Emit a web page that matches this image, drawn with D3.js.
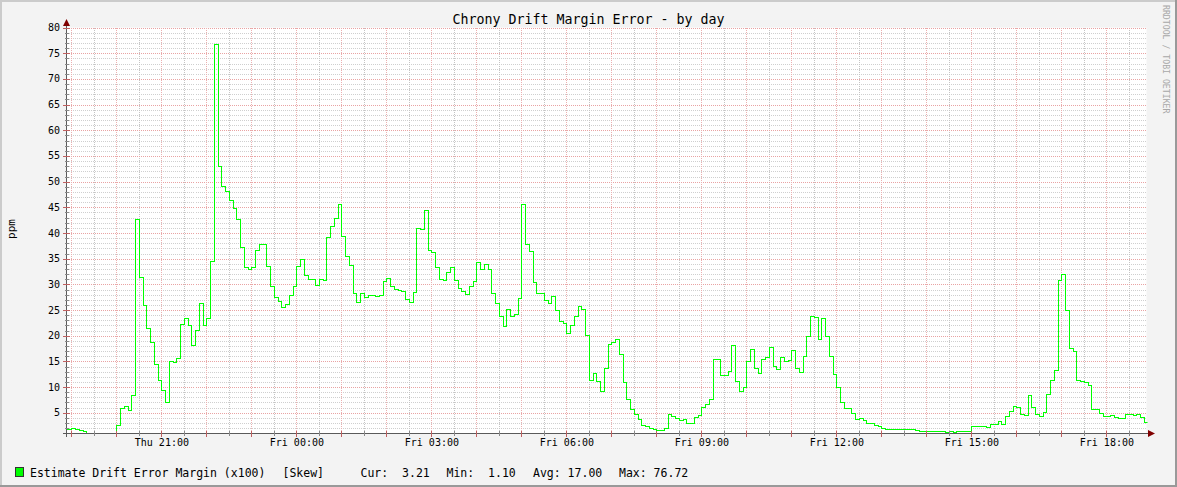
<!DOCTYPE html>
<html><head><meta charset="utf-8">
<script src="https://cdn.jsdelivr.net/npm/d3@7"></script>
<style>
body{margin:0;background:#f3f3f3}
svg{display:block}
text{font-family:"DejaVu Sans Mono",monospace;fill:#000}
</style>
</head><body>
<svg id="chart" width="1177" height="487"></svg>
<script>
// ---- data ----
const title = "Chrony Drift Margin Error - by day";
const yLabel = "ppm";
const watermark = "RRDTOOL / TOBI OETIKER";
const seriesName = "Estimate Drift Error Margin (x100)";
const seriesTag = "[Skew]";
const statLabels = ["Cur:  3.21", "Min:  1.10", "Avg: 17.00", "Max: 76.72"];
const yTickValues = [5,10,15,20,25,30,35,40,45,50,55,60,65,70,75,80];
const xTickLabels = ["Thu 21:00","Fri 00:00","Fri 03:00","Fri 06:00","Fri 09:00","Fri 12:00","Fri 15:00","Fri 18:00"];
const xTickHours = [21,24,27,30,33,36,39,42]; // hours after Thu 00:00
const stepMinutes = 5;
// one value per 5-minute step, first step starting Thu 18:50
const skew = [
 1.9,1.75,2.0,1.8,1.6,1.4,1.1,1.1,1.1,1.1,1.1,1.1,1.1,1.1,
 2.6,5.9,6.4,5.5,8.4,42.7,31.4,25.9,21.5,18.8,14.4,11.3,9.4,7.0,
 15.1,14.8,15.6,22.2,23.4,22.1,18.1,21.2,26.3,22.0,23.4,34.5,76.72,53.1,
 49.1,48.2,46.4,44.9,42.7,37.2,33.3,32.9,33.3,36.6,37.8,37.8,33.6,29.7,
 27.5,26.7,25.5,26.1,27.9,29.6,33.6,34.9,31.8,31.0,31.0,29.8,31.0,30.8,
 39.2,41.4,42.9,45.6,39.4,35.5,33.8,28.4,26.6,28.4,27.5,28.0,27.9,27.7,
 27.9,30.6,31.2,29.6,29.1,29.0,28.8,27.1,26.6,28.5,40.9,40.7,44.4,36.7,
 36.3,33.3,31.1,30.8,32.5,33.3,30.8,29.2,28.7,28.1,29.6,30.6,34.3,32.9,
 33.9,33.0,28.4,26.4,23.9,21.9,25.3,23.8,24.3,27.3,45.6,37.9,36.5,30.5,
 28.3,28.3,26.9,26.4,27.7,25.1,22.8,22.4,20.5,22.0,23.9,25.7,25.3,20.1,
 11.3,12.7,11.1,9.2,13.8,18.4,18.7,19.4,16.4,10.9,7.6,5.7,4.7,3.7,
 2.7,2.35,2.0,1.8,1.7,1.65,2.0,4.7,4.4,4.0,3.6,3.7,3.1,3.0,
 4.1,4.5,6.05,6.7,7.7,15.5,15.4,12.3,12.3,13.2,18.1,11.1,9.2,10.1,
 15.0,17.5,13.8,12.7,15.5,15.8,17.9,14.2,13.6,15.9,15.1,15.3,17.3,13.8,
 12.9,16.0,19.9,23.8,23.6,19.4,23.4,19.9,16.1,12.5,10.1,7.15,5.9,5.9,
 5.0,3.8,3.9,3.6,3.0,3.0,2.6,2.4,1.96,1.8,1.8,1.8,1.8,1.8,
 1.8,1.8,1.8,1.63,1.4,1.4,1.4,1.4,1.4,1.4,1.4,1.18,1.37,1.18,
 1.37,1.37,1.37,1.37,2.5,2.5,2.5,2.5,2.15,2.87,2.8,3.3,2.9,4.4,
 5.27,6.4,6.2,4.7,4.6,8.4,6.2,4.75,4.4,5.2,8.6,11.4,13.4,30.8,
 31.95,25.1,17.7,17.1,11.3,11.1,11.0,10.5,5.66,5.66,4.9,4.4,4.4,4.5,
 4.2,4.0,4.0,4.7,4.7,4.56,4.7,4.2,3.21
];

// ---- layout ----
const W = 1177, H = 487;
const pL = 66.5, pR = 1146.5, pT = 27.6, pB = 433.3;
const dayStart = new Date(2020,0,2,0,0,0); // Thursday
const viewStart = new Date(2020,0,2,18,53,30);
const viewEnd = new Date(2020,0,3,18,53,30);
const firstSample = new Date(2020,0,2,18,50,0);

const svg = d3.select("#chart");
const x = d3.scaleTime().domain([viewStart, viewEnd]).range([pL, pR]);
const y = d3.scaleLinear().domain([1, 80]).range([pB, pT]);

// background + frame
svg.append("rect").attr("width",W).attr("height",H).attr("fill","#f3f3f3");
svg.append("rect").attr("x",0).attr("y",0).attr("width",W).attr("height",2).attr("fill","#cbcbcb");
svg.append("rect").attr("x",0).attr("y",0).attr("width",2).attr("height",H).attr("fill","#cbcbcb");
svg.append("rect").attr("x",0).attr("y",H-2).attr("width",W).attr("height",2).attr("fill","#999");
svg.append("rect").attr("x",W-2).attr("y",0).attr("width",2).attr("height",H).attr("fill","#999");

// canvas
svg.append("rect").attr("x",pL).attr("y",pT).attr("width",pR-pL).attr("height",pB-pT).attr("fill","#fff");

const grid = svg.append("g").attr("shape-rendering","crispEdges");
const minorY = d3.range(2, 81, 1).filter(v => v % 5 !== 0);
grid.selectAll(".hmin").data(minorY).join("line")
  .attr("x1",pL).attr("x2",pR)
  .attr("y1",d=>Math.round(y(d))+0.5).attr("y2",d=>Math.round(y(d))+0.5)
  .attr("stroke","#cfcfcf").attr("stroke-dasharray","1,1");
const halfHours = d3.timeMinute.every(30).range(viewStart, viewEnd).filter(d => d.getMinutes() === 30);
grid.selectAll(".vmin").data(halfHours).join("line")
  .attr("y1",pT).attr("y2",pB)
  .attr("x1",d=>Math.round(x(d))+0.5).attr("x2",d=>Math.round(x(d))+0.5)
  .attr("stroke","#c4c4c4").attr("stroke-dasharray","1,1");
grid.selectAll(".hmaj").data(yTickValues).join("line")
  .attr("x1",pL).attr("x2",pR)
  .attr("y1",d=>Math.round(y(d))+0.5).attr("y2",d=>Math.round(y(d))+0.5)
  .attr("stroke","#e9a3a3").attr("stroke-dasharray","1,1");
const hours = d3.timeHour.every(1).range(viewStart, viewEnd);
grid.selectAll(".vmaj").data(hours).join("line")
  .attr("y1",pT).attr("y2",pB)
  .attr("x1",d=>Math.round(x(d))+0.5).attr("x2",d=>Math.round(x(d))+0.5)
  .attr("stroke","#ebb0b0").attr("stroke-dasharray","1,1");

// series
const pts = skew.map((v,i) => ({t: d3.timeMinute.offset(firstSample, i*stepMinutes), v}));
pts.push({t: d3.timeMinute.offset(firstSample, skew.length*stepMinutes), v: skew[skew.length-1]});
svg.append("clipPath").attr("id","clip").append("rect")
  .attr("x",pL).attr("y",pT-2).attr("width",pR-pL+1).attr("height",pB-pT+4);
const line = d3.line().x(d=>Math.round(x(d.t))+0.5).y(d=>Math.round(y(d.v))+0.5).curve(d3.curveStepAfter);
svg.append("path").datum(pts).attr("d",line).attr("clip-path","url(#clip)")
  .attr("fill","none").attr("stroke","#00ff00").attr("stroke-width",1.2)
  .attr("shape-rendering","crispEdges");

// axes
const ax = svg.append("g").attr("shape-rendering","crispEdges");
ax.append("line").attr("x1",63).attr("x2",1149).attr("y1",433.5).attr("y2",433.5).attr("stroke","#5a5a5a");
ax.append("line").attr("x1",66.5).attr("x2",66.5).attr("y1",437).attr("y2",24).attr("stroke","#5a5a5a");
ax.selectAll(".yt").data(d3.range(2,81,1)).join("line")
  .attr("x1",d=> d%5===0 ? 63 : 64.5).attr("x2",d=> d%5===0 ? 70 : 68.5)
  .attr("y1",d=>Math.round(y(d))+0.5).attr("y2",d=>Math.round(y(d))+0.5)
  .attr("stroke",d=> d%5===0 ? "#c06060" : "#8a8a8a");
ax.selectAll(".xt").data(d3.timeMinute.every(30).range(viewStart, viewEnd)).join("line")
  .attr("x1",d=>Math.round(x(d))+0.5).attr("x2",d=>Math.round(x(d))+0.5)
  .attr("y1",431).attr("y2",d=> d.getMinutes()===0 ? 437 : 435.5)
  .attr("stroke",d=> d.getMinutes()===0 ? "#c06060" : "#8a8a8a");
svg.append("path").attr("d","M63,26 L70,26 L66.5,19 Z").attr("fill","#800000");
svg.append("path").attr("d","M1148,430 L1148,437 L1155,433.5 Z").attr("fill","#800000");

svg.selectAll(".yl").data(yTickValues).join("text")
  .attr("x",60).attr("y",d=>y(d)+3.5).attr("text-anchor","end")
  .attr("font-size","10px").text(d=>d);
svg.selectAll(".xl").data(xTickLabels).join("text")
  .attr("x",(d,i)=>x(d3.timeHour.offset(dayStart, xTickHours[i]))+0.5)
  .attr("y",446).attr("text-anchor","middle")
  .attr("font-size","10px").text(d=>d);

svg.append("text").attr("x",588.5).attr("y",23.5).attr("text-anchor","middle")
  .attr("font-size","13.3px").text(title);
svg.append("text").attr("transform","translate(15,229) rotate(-90)").attr("text-anchor","middle")
  .attr("font-size","11px").text(yLabel);
svg.append("text").attr("transform","translate(1163,5) rotate(90)").attr("text-anchor","start")
  .attr("font-size","8.2px").style("fill","#a8a8a8").text(watermark);

svg.append("rect").attr("x",15.5).attr("y",467.5).attr("width",8).attr("height",9)
  .attr("fill","#00ff00").attr("stroke","#333").attr("shape-rendering","crispEdges");
svg.append("text").attr("x",30).attr("y",477).attr("font-size","11.5px").text(seriesName);
svg.append("text").attr("x",282.5).attr("y",477).attr("font-size","11.5px").text(seriesTag);
const statX = [360.5, 446.5, 533, 619];
svg.selectAll(".st").data(statLabels).join("text")
  .attr("x",(d,i)=>statX[i]).attr("y",477).attr("font-size","11.5px")
  .style("white-space","pre").attr("xml:space","preserve").text(d=>d);
</script>
</body></html>
